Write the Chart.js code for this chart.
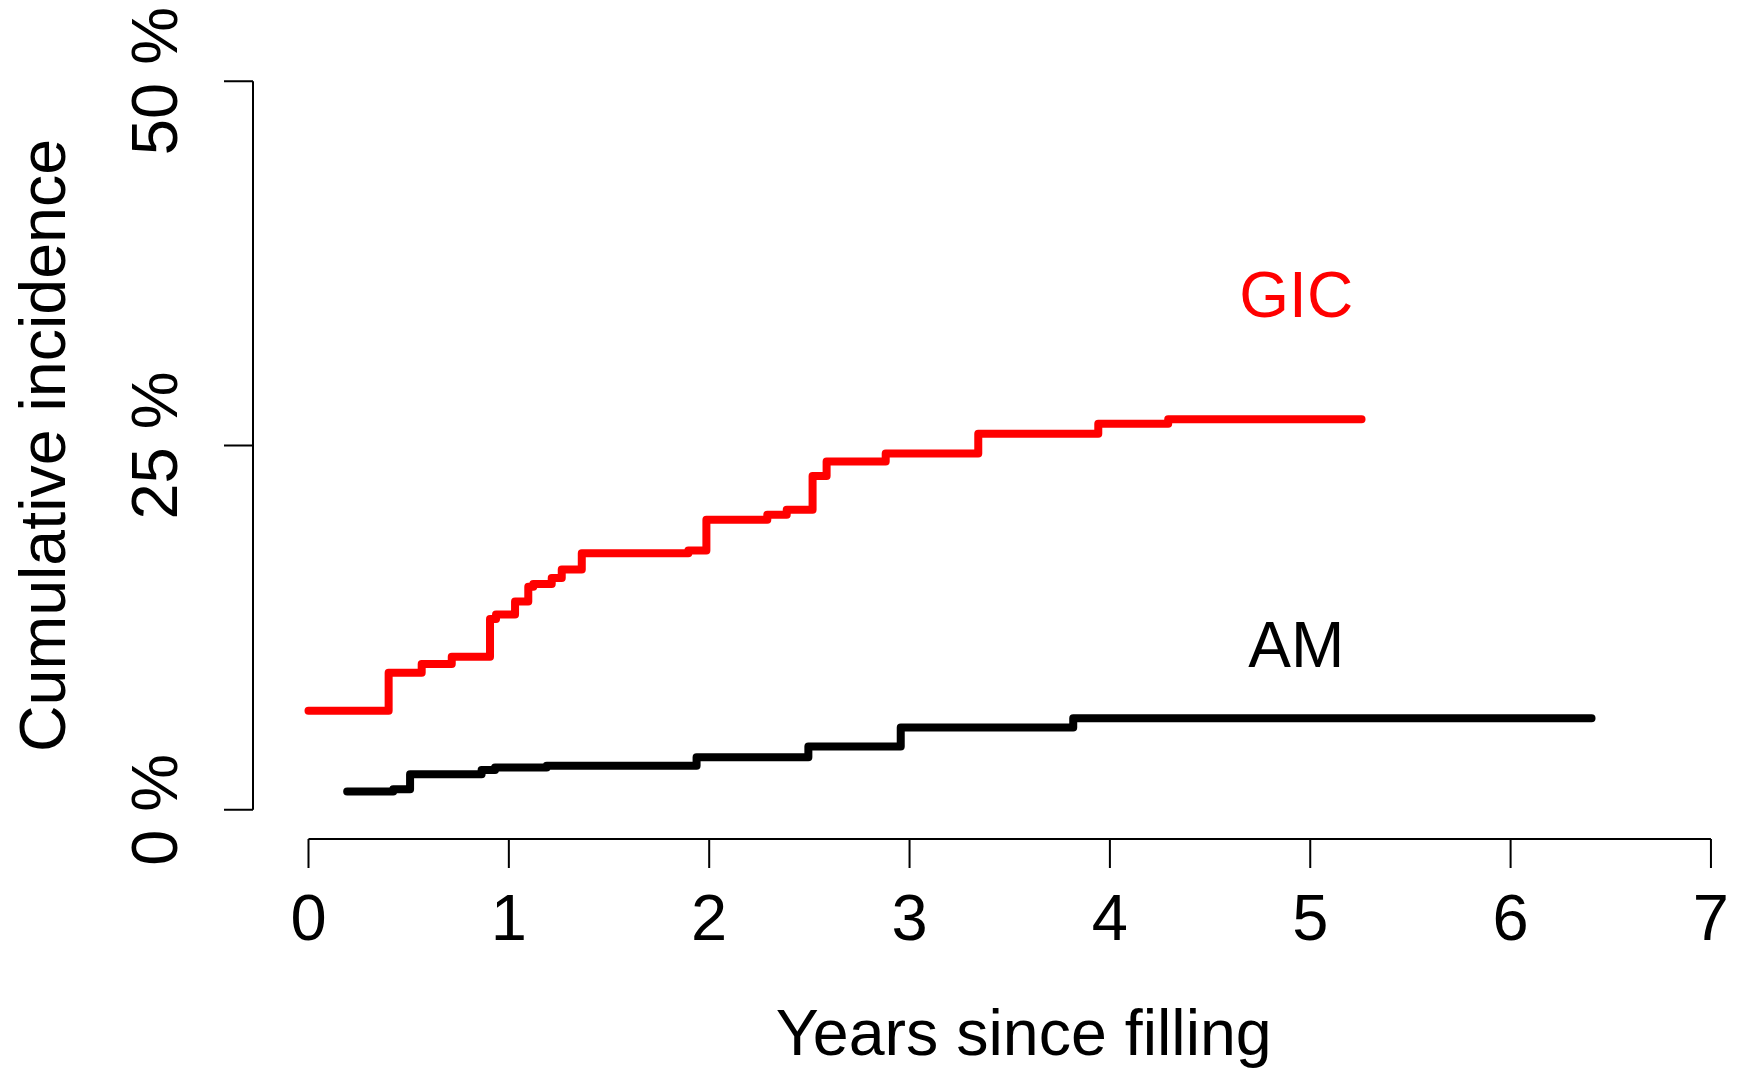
<!DOCTYPE html>
<html>
<head>
<meta charset="utf-8">
<script src="https://cdn.jsdelivr.net/npm/chart.js@4"></script>
<style>
  html, body { margin: 0; padding: 0; background: #fff; }
  canvas { display: block; }
</style>
</head>
<body>
<canvas id="ciChart" width="1740" height="1073"></canvas>
<script>
// cumulative incidence (%), step changes at each time (years)
const gicTimes = [0, 0.40, 0.565, 0.715, 0.906, 0.936, 1.031, 1.097, 1.122, 1.214, 1.264, 1.364, 1.896, 1.986, 2.29, 2.387, 2.516, 2.586, 2.881, 3.343, 3.942, 4.291, 5.256];
const gicPct   = [6.8, 9.4, 10.0, 10.5, 13.1, 13.4, 14.3, 15.3, 15.5, 15.9, 16.5, 17.6, 17.8, 19.9, 20.25, 20.6, 22.9, 23.9, 24.45, 25.8, 26.5, 26.8, 26.8];

const amTimes = [0.193, 0.423, 0.507, 0.864, 0.931, 1.189, 1.937, 2.495, 2.956, 3.817, 6.404];
const amPct   = [1.26, 1.42, 2.45, 2.74, 2.90, 3.02, 3.61, 4.34, 5.65, 6.29, 6.29];

// axis ticks
const xTicks = [0, 1, 2, 3, 4, 5, 6, 7];
const yTicks = [0, 25, 50];
const yTickLabels = ['0 %', '25 %', '50 %'];

// curve labels
const curveLabels = ['GIC', 'AM'];
const curveLabelX = [4.93, 4.93];
const curveLabelY = [35, 11];
const curveColors = ['#ff0000', '#000000'];

const toPoints = (xs, ys) => xs.map((x, i) => ({ x: x, y: ys[i] }));

// axes drawn R-style (line only over the tick range, rotated y labels)
const rAxes = {
    id: 'rAxes',
    afterDraw(chart) {
        const c = chart.ctx;
        const xs = chart.scales.x, ys = chart.scales.y;
        const area = chart.chartArea;
        c.save();
        c.strokeStyle = '#000';
        c.fillStyle = '#000';
        c.lineWidth = 2;
        c.lineCap = 'butt';

        // x axis
        const yb = area.bottom;
        c.beginPath();
        c.moveTo(xs.getPixelForValue(xTicks[0]), yb);
        c.lineTo(xs.getPixelForValue(xTicks[xTicks.length - 1]), yb);
        xTicks.forEach(t => {
            const px = xs.getPixelForValue(t);
            c.moveTo(px, yb);
            c.lineTo(px, yb + 29);
        });
        c.stroke();
        c.font = '65px "Liberation Sans", Arial, sans-serif';
        c.textAlign = 'center';
        c.textBaseline = 'middle';
        xTicks.forEach(t => c.fillText(String(t), xs.getPixelForValue(t), yb + 83));

        // y axis
        const xl = area.left;
        c.beginPath();
        c.moveTo(xl, ys.getPixelForValue(yTicks[0]));
        c.lineTo(xl, ys.getPixelForValue(yTicks[yTicks.length - 1]));
        yTicks.forEach(t => {
            const py = ys.getPixelForValue(t);
            c.moveTo(xl, py);
            c.lineTo(xl - 29, py);
        });
        c.stroke();
        yTicks.forEach((t, i) => {
            c.save();
            c.translate(xl - 94, ys.getPixelForValue(t));
            c.rotate(-Math.PI / 2);
            c.fillText(yTickLabels[i], 0, 0);
            c.restore();
        });

        // axis titles
        c.font = '64.5px "Liberation Sans", Arial, sans-serif';
        c.fillText('Years since filling', (xs.getPixelForValue(0) + xs.getPixelForValue(7)) / 2 + 14, 1037);
        c.save();
        c.translate(47, (area.top + area.bottom) / 2);
        c.rotate(-Math.PI / 2);
        c.fillText('Cumulative incidence', 0, 0);
        c.restore();

        // curve labels
        c.font = '64px "Liberation Sans", Arial, sans-serif';
        curveLabels.forEach((lab, i) => {
            c.fillStyle = curveColors[i];
            c.fillText(lab, xs.getPixelForValue(curveLabelX[i]), ys.getPixelForValue(curveLabelY[i]));
        });
        c.restore();
    }
};

const ctx = document.getElementById('ciChart').getContext('2d');
const ciChart = new Chart(ctx, {
    type: 'scatter',
    data: {
        datasets: [{
            label: 'GIC',
            data: toPoints(gicTimes, gicPct),
            showLine: true,
            stepped: 'before',
            borderColor: curveColors[0],
            borderWidth: 8,
            borderCapStyle: 'round',
            borderJoinStyle: 'round',
            pointRadius: 0
        }, {
            label: 'AM',
            data: toPoints(amTimes, amPct),
            showLine: true,
            stepped: 'before',
            borderColor: curveColors[1],
            borderWidth: 8,
            borderCapStyle: 'round',
            borderJoinStyle: 'round',
            pointRadius: 0
        }]
    },
    options: {
        responsive: false,
        animation: false,
        devicePixelRatio: 1,
        layout: { padding: { left: 253, right: 0, top: 52, bottom: 234 } },
        plugins: { legend: { display: false }, tooltip: { enabled: false } },
        scales: {
            x: { type: 'linear', min: -0.277, max: 7.145, display: false },
            y: { type: 'linear', min: -2, max: 52, display: false }
        }
    },
    plugins: [rAxes]
});
</script>
</body>
</html>
